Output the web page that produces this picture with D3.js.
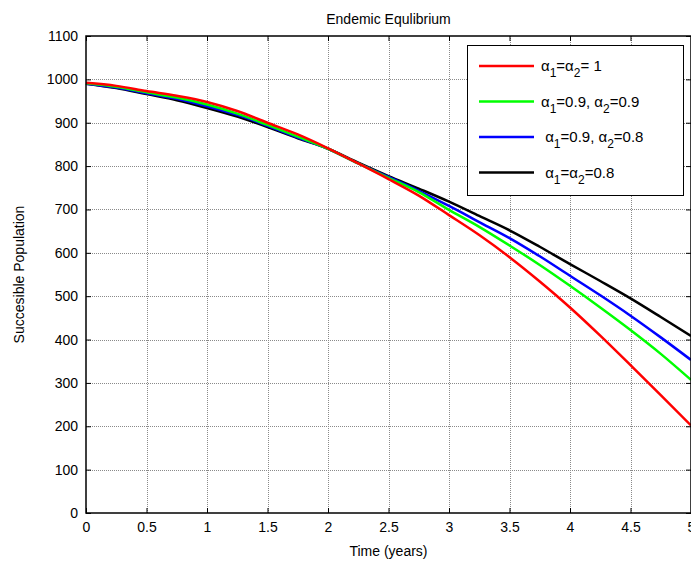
<!DOCTYPE html>
<html>
<head>
<meta charset="utf-8">
<script src="https://cdn.jsdelivr.net/npm/d3@7"></script>
<style>
  body { margin: 0; background: #fff; }
  svg { display: block; font-family: Arial, "Liberation Sans", sans-serif; }
</style>
</head>
<body>
<div id="chart"></div>
<script>
// time points (years)
const times = [0, 0.25, 0.5, 0.75, 1, 1.25, 1.5, 1.75, 2, 2.25, 2.5, 2.75, 3, 3.25, 3.5, 3.75, 4, 4.25, 4.5, 4.75, 5];

// succesible population for each fractional order
const redValues   = [992, 985, 973, 962, 948, 927, 900, 873, 841, 806, 770, 732, 687, 641, 590, 534, 474, 409, 341, 272, 202];
const greenValues = [991, 983, 970, 958, 942, 921, 895, 868, 840, 806, 773, 740, 699, 660, 617, 572, 524, 474, 422, 367, 307];
const blueValues  = [990, 981, 968, 955, 938, 918, 893, 866, 840, 806, 775, 743, 708, 671, 634, 592, 547, 502, 455, 405, 353];
const blackValues = [990, 980, 966, 952, 934, 914, 890, 864, 840, 808, 777, 748, 718, 685, 652, 614, 574, 535, 495, 452, 408];

const seriesColors = ["#ff0000", "#00ff00", "#0000ff", "#000000"];
// legend labels: [text, isSubscript] pieces
const legendLabels = [
    [["α", 0], ["1", 1], ["=α", 0], ["2", 1], ["= 1", 0]],
    [["α", 0], ["1", 1], ["=0.9, α", 0], ["2", 1], ["=0.9", 0]],
    [[" α", 0], ["1", 1], ["=0.9, α", 0], ["2", 1], ["=0.8", 0]],
    [[" α", 0], ["1", 1], ["=α", 0], ["2", 1], ["=0.8", 0]]
];

const xTicks = [0, 0.5, 1, 1.5, 2, 2.5, 3, 3.5, 4, 4.5, 5];
const yTicks = [0, 100, 200, 300, 400, 500, 600, 700, 800, 900, 1000, 1100];

const width = 691, height = 569;
const margin = { top: 36, right: 0, bottom: 56, left: 86 };

const svg = d3.select("#chart").append("svg")
    .attr("width", width)
    .attr("height", height);

const x = d3.scaleLinear().domain([0, 5]).range([margin.left, width - margin.right]);
const y = d3.scaleLinear().domain([0, 1100]).range([height - margin.bottom, margin.top]);

// ========================
// Grid (dotted)
// ========================
const grid = svg.append("g").attr("stroke", "#8a8a8a").attr("stroke-width", 1).attr("stroke-dasharray", "1,1");
grid.selectAll(".gx").data(xTicks.slice(1, -1)).enter().append("line")
    .attr("x1", d => Math.round(x(d)) + 0.5).attr("x2", d => Math.round(x(d)) + 0.5)
    .attr("y1", y(1100)).attr("y2", y(0));
grid.selectAll(".gy").data(yTicks.slice(1, -1)).enter().append("line")
    .attr("y1", d => Math.round(y(d)) + 0.5).attr("y2", d => Math.round(y(d)) + 0.5)
    .attr("x1", x(0)).attr("x2", x(5));

// ========================
// Curves
// ========================
const line = d3.line()
    .x((d, i) => x(times[i]))
    .y(d => y(d))
    .curve(d3.curveMonotoneX);

const allSeries = [redValues, greenValues, blueValues, blackValues];
svg.append("g").selectAll("path").data(allSeries.slice().reverse()).enter().append("path")
    .attr("d", line)
    .attr("fill", "none")
    .attr("stroke", (d, i) => seriesColors[3 - i])
    .attr("stroke-width", 2.5);

// ========================
// Axes (MATLAB style, ticks inward on all sides)
// ========================
const axisBottom = d3.axisBottom(x).tickValues(xTicks).tickSize(-5).tickPadding(9).tickFormat(d3.format("~g"));
const axisTop = d3.axisTop(x).tickValues(xTicks).tickSize(-5).tickFormat("");
const axisLeft = d3.axisLeft(y).tickValues(yTicks).tickSize(-5).tickPadding(8).tickFormat(d3.format("d"));
const axisRight = d3.axisRight(y).tickValues(yTicks).tickSize(-5).tickFormat("");

function styleAxis(g) {
    g.select(".domain").remove();
    g.selectAll("line").attr("stroke", "#000");
    g.selectAll("text").attr("fill", "#000").style("font-size", "14px");
}

svg.append("g").attr("transform", `translate(0,${y(0)})`).call(axisBottom).call(styleAxis);
svg.append("g").attr("transform", `translate(0,${y(1100)})`).call(axisTop).call(styleAxis);
svg.append("g").attr("transform", `translate(${x(0)},0)`).call(axisLeft).call(styleAxis);
svg.append("g").attr("transform", `translate(${x(5)},0)`).call(axisRight).call(styleAxis);

// frame
svg.append("rect")
    .attr("x", x(0)).attr("y", y(1100))
    .attr("width", x(5) - x(0)).attr("height", y(0) - y(1100))
    .attr("fill", "none").attr("stroke", "#000").attr("stroke-width", 1.5);

// ========================
// Titles
// ========================
const midX = (x(0) + x(5)) / 2;
svg.append("text").attr("x", midX).attr("y", 24)
    .attr("text-anchor", "middle").style("font-size", "14px").text("Endemic Equlibrium");
svg.append("text").attr("x", midX).attr("y", 556)
    .attr("text-anchor", "middle").style("font-size", "14px").text("Time (years)");
svg.append("text")
    .attr("transform", `translate(24,${(y(0) + y(1100)) / 2}) rotate(-90)`)
    .attr("text-anchor", "middle").style("font-size", "14px").text("Succesible Population");

// ========================
// Legend
// ========================
const legend = svg.append("g");
legend.append("rect")
    .attr("x", 467.5).attr("y", 45.5).attr("width", 216).attr("height", 150)
    .attr("fill", "#fff").attr("stroke", "#000").attr("stroke-width", 1);

legendLabels.forEach((parts, i) => {
    const ly = 66 + i * 35.5;
    legend.append("line")
        .attr("x1", 479).attr("x2", 534).attr("y1", ly).attr("y2", ly)
        .attr("stroke", seriesColors[i]).attr("stroke-width", 2.5);
    const t = legend.append("text")
        .attr("x", 541).attr("y", ly + 5)
        .style("font-size", "15px")
        .attr("xml:space", "preserve");
    parts.forEach(p => {
        const ts = t.append("tspan").text(p[0]);
        if (p[1]) ts.attr("dy", 6).style("font-size", "12px");
        else if (t.selectAll("tspan").size() > 1) ts.attr("dy", -6);
    });
});
</script>
</body>
</html>
